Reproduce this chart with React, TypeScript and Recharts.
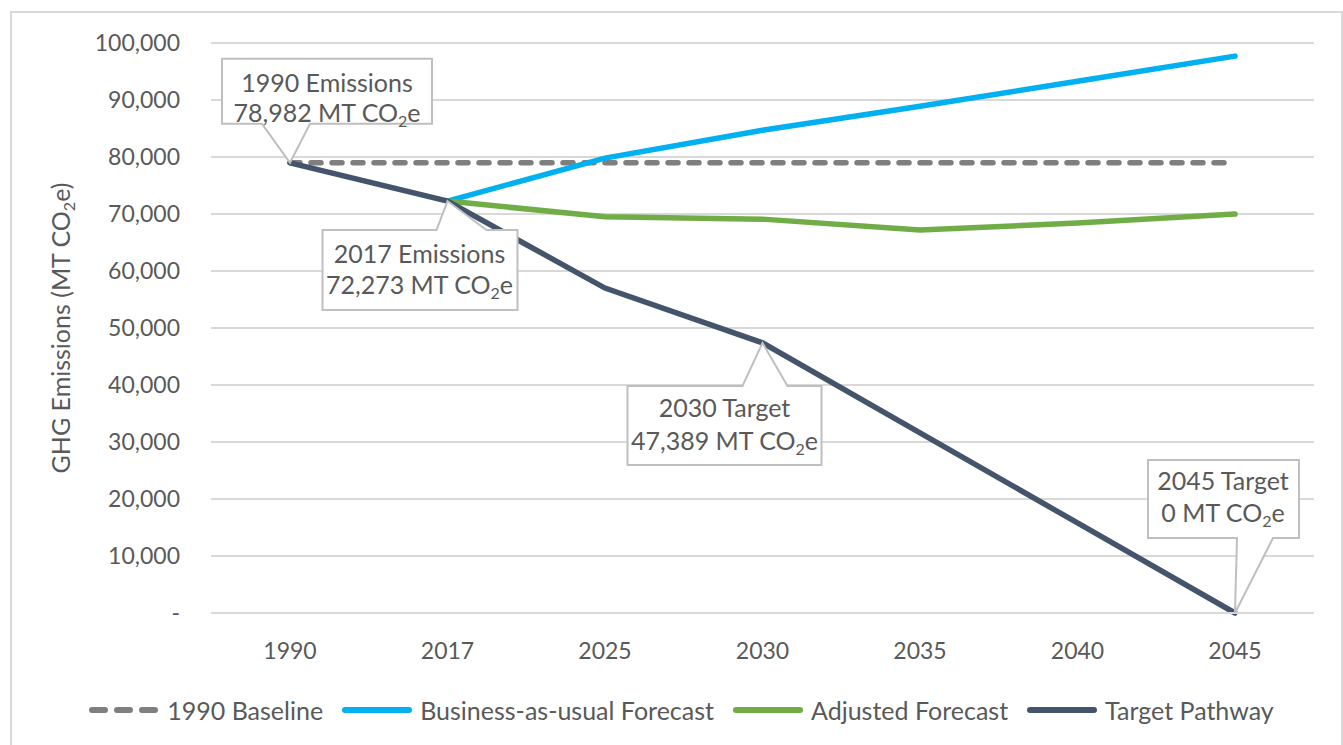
import { LineChart, Line, XAxis, YAxis, CartesianGrid, Legend, ReferenceDot } from "recharts"

const years = ["1990", "2017", "2025", "2030", "2035", "2040", "2045"]
const baseline = [78982, 78982, 78982, 78982, 78982, 78982, 78982]
const businessAsUsual = [null, 72273, 79800, 84700, 88900, 93300, 97700]
const adjusted = [null, 72273, 69500, 69100, 67200, 68400, 70000]
const targetPathway = [78982, 72273, 57000, 47389, 31600, 15800, 0]
const yTicks = [0, 10000, 20000, 30000, 40000, 50000, 60000, 70000, 80000, 90000, 100000]

const callouts = [
  { year: "1990", value: 78982, title: "1990 Emissions", amount: "78,982" },
  { year: "2017", value: 72273, title: "2017 Emissions", amount: "72,273" },
  { year: "2030", value: 47389, title: "2030 Target", amount: "47,389" },
  { year: "2045", value: 0, title: "2045 Target", amount: "0" },
]

const SERIES = [
  { key: "baseline", name: "1990 Baseline", color: "#7f7f7f", dash: "10 11" },
  { key: "bau", name: "Business-as-usual Forecast", color: "#00b0f0", dash: undefined },
  { key: "adjusted", name: "Adjusted Forecast", color: "#70ad47", dash: undefined },
  { key: "target", name: "Target Pathway", color: "#44546a", dash: undefined },
]

const data = years.map((year, i) => ({
  year,
  baseline: baseline[i],
  bau: businessAsUsual[i],
  adjusted: adjusted[i],
  target: targetPathway[i],
}))

// box offsets relative to the pointer tip
const CALLOUT_LAYOUT: Record<string, { bx: number; by: number; bw: number; bh: number; p1: number; p2: number; tx: number; l1: number; l2: number; side: "top" | "bottom" }> = {
  "1990": { bx: -68, by: -104, bw: 210, bh: 65, p1: -28, p2: 20, tx: 37, l1: -71, l2: -41, side: "bottom" },
  "2017": { bx: -125, by: 29, bw: 195, bh: 80, p1: -11, p2: 39, tx: -28, l1: 62, l2: 93, side: "top" },
  "2030": { bx: -135, by: 43, bw: 194, bh: 79, p1: -20, p2: 25, tx: -38, l1: 74, l2: 107, side: "top" },
  "2045": { bx: -87, by: -153, bw: 151, bh: 78, p1: 2, p2: 38, tx: -12, l1: -123, l2: -91, side: "bottom" },
}

const TEXT = "#595959"
const GRID = "#d9d9d9"

function Callout(props: any, c: (typeof callouts)[number]) {
  const { cx, cy } = props
  const L = CALLOUT_LAYOUT[c.year]
  const x0 = cx + L.bx
  const y0 = cy + L.by
  const x1 = x0 + L.bw
  const y1 = y0 + L.bh
  const d =
    L.side === "top"
      ? `M${x0},${y0} L${cx + L.p1},${y0} L${cx},${cy} L${cx + L.p2},${y0} L${x1},${y0} L${x1},${y1} L${x0},${y1} Z`
      : `M${x0},${y0} L${x1},${y0} L${x1},${y1} L${cx + L.p2},${y1} L${cx},${cy} L${cx + L.p1},${y1} L${x0},${y1} Z`
  return (
    <g>
      <path d={d} fill="#fff" stroke="#bfbfbf" strokeWidth={2} />
      <text x={cx + L.tx} y={cy + L.l1} textAnchor="middle" fill={TEXT} fontSize={25} fontFamily="Lato">
        {c.title}
      </text>
      <text x={cx + L.tx} y={cy + L.l2} textAnchor="middle" fill={TEXT} fontSize={25} fontFamily="Lato">
        {c.amount} MT CO
        <tspan fontSize={16} dy={5}>2</tspan>
        <tspan dy={-5}>e</tspan>
      </text>
    </g>
  )
}

function LegendContent() {
  return (
    <div style={{ display: "flex", justifyContent: "center", alignItems: "center", gap: 18, paddingLeft: 38, height: 30, fontFamily: "Lato", fontSize: 25, color: TEXT }}>
      {SERIES.map((s) => (
        <div key={s.key} style={{ display: "flex", alignItems: "center" }}>
          <svg width={72} height={12} style={{ marginRight: 7 }}>
            <line x1={4} y1={6} x2={68} y2={6} stroke={s.color} strokeWidth={6} strokeLinecap="round" strokeDasharray={s.dash ? "13 12" : undefined} />
          </svg>
          <span>{s.name}</span>
        </div>
      ))}
    </div>
  )
}

function YLabel(props: any) {
  const { viewBox } = props
  const x = viewBox.x + 52
  const y = viewBox.y + viewBox.height / 2
  return (
    <text x={x} y={y} transform={`rotate(-90, ${x}, ${y})`} textAnchor="middle" fill={TEXT} fontSize={25} fontFamily="Lato" dy={8}>
      GHG Emissions (MT CO
      <tspan fontSize={16} dy={5}>2</tspan>
      <tspan dy={-5}>e)</tspan>
    </text>
  )
}

export default function App() {
  return (
    <div style={{ position: "absolute", left: 0, top: 0, width: 1343, height: 745, overflow: "hidden", background: "#fff" }}>
      <div style={{ position: "absolute", left: 10, top: 11, width: 1329, height: 760, border: `2px solid ${GRID}` }} />
      <LineChart
        width={1343}
        height={745}
        data={data}
        margin={{ top: 43, right: 29, left: 10, bottom: 20 }}
        style={{ fontFamily: "Lato", position: "absolute", left: 0, top: 0 }}
      >
        <CartesianGrid vertical={false} stroke={GRID} strokeWidth={2} />
        <XAxis
          dataKey="year"
          height={82}
          padding={{ left: 79, right: 79 }}
          axisLine={{ stroke: GRID, strokeWidth: 2 }}
          tickLine={false}
          tickMargin={24}
          tick={{ fontSize: 23, fill: TEXT }}
        />
        <YAxis
          width={201}
          domain={[0, 100000]}
          ticks={yTicks}
          axisLine={false}
          tickLine={false}
          tickMargin={25}
          tickFormatter={(v: number) => (v === 0 ? "-" : v.toLocaleString("en-US"))}
          tick={{ fontSize: 23, fill: TEXT }}
          label={<YLabel />}
        />
        {SERIES.map((s) => (
          <Line
            key={s.key}
            dataKey={s.key}
            name={s.name}
            type="linear"
            stroke={s.color}
            strokeWidth={5.5}
            strokeLinecap="round"
            strokeDasharray={s.dash}
            dot={false}
            activeDot={false}
            isAnimationActive={false}
          />
        ))}
        {callouts.map((c) => (
          <ReferenceDot
            key={c.year}
            x={c.year}
            y={c.value}
            r={0}
            ifOverflow="visible"
            shape={(p: any) => Callout(p, c)}
          />
        ))}
        <Legend verticalAlign="bottom" content={<LegendContent />} />
      </LineChart>
    </div>
  )
}
